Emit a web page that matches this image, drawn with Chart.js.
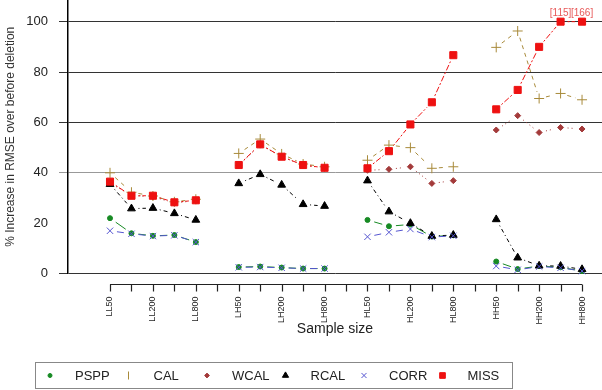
<!DOCTYPE html>
<html>
<head>
<meta charset="utf-8">
<script src="https://cdn.jsdelivr.net/npm/chart.js@4.4.1/dist/chart.umd.min.js"></script>
<style>
  html, body { margin: 0; padding: 0; background: #fff; }
</style>
</head>
<body>
<canvas id="chart" width="602" height="390"></canvas>
<script>
// positions: LL, LH, HL, HH groups (5 sample sizes each), an empty slot between groups
const tickLabels = ['LL50', '', 'LL200', '', 'LL800', '',
                    'LH50', '', 'LH200', '', 'LH800', '',
                    'HL50', '', 'HL200', '', 'HL800', '',
                    'HH50', '', 'HH200', '', 'HH800'];
const yTicks = [0, 20, 40, 60, 80, 100];
const yCap = 100;

const pspp = [22, 16, 15, 15.3, 12.5, null, 2.6, 2.8, 2.4, 2, 2, null, 21.3, 18.8, 19.5, 14.7, 15.2, null, 4.8, 1.8, 3, 2.5, 1];
const cal  = [40, 32.3, 30.8, 28.5, 29.5, null, 47.7, 53.4, 47.5, 43.5, 42.4, null, 45, 51, 50, 41.8, 42.4, null, 89.8, 96.3, 69.5, 71.5, 69];
const wcal = [36, 31, 30.5, 28, 29, null, 43, 51, 46.5, 43, 42, null, 41, 41.4, 42.4, 35.8, 36.9, null, 57, 62.7, 56, 58, 57.4];
const rcal = [35.5, 25.8, 26, 23.9, 21.3, null, 35.8, 39.4, 35.2, 27.5, 26.8, null, 36.9, 24.6, 20, 14.9, 15.3, null, 21.5, 6.3, 3.1, 3, 1.7];
const corr = [17, 15.8, 14.9, 15.2, 12.5, null, 2.5, 2.6, 2.3, 2, 2, null, 14.6, 16.4, 17.7, 14.5, 15, null, 3, 1.5, 2.8, 2.3, 1];
const miss = [36.5, 30.9, 30.9, 28.3, 29.1, null, 43.1, 51.3, 46.4, 43.1, 42, null, 41.8, 48.6, 59.2, 68, 86.7, null, 65.2, 72.9, 90, 115, 166];

const FONT = '"Liberation Sans", Arial, sans-serif';

function pts(arr) {
    // values above the cap are drawn at the cap and labelled
    return arr.map((v, i) => ({ x: i, y: v == null ? null : Math.min(v, yCap) }));
}

function series(label, arr, color, style, radius, dash, order) {
    return {
        label: label,
        data: pts(arr),
        raw: arr,
        showLine: false,
        pointStyle: style,
        pointRadius: radius,
        pointBackgroundColor: color,
        pointBorderColor: color,
        pointBorderWidth: 1,
        borderColor: color,
        dash: dash,
        order: order,
        clip: false
    };
}

const datasets = [
    series('PSPP', pspp, '#178a24', 'circle', 2.5, [], 6),
    series('CAL', cal, '#a88a3a', 'cross', 5, [4, 4], 5),
    series('WCAL', wcal, '#a33a3a', 'rectRot', 3, [1, 3], 4),
    series('RCAL', rcal, '#000000', 'triangle', 4.5, [1, 3, 4, 3], 3),
    series('CORR', corr, '#5555d0', 'crossRot', 4.5, [7, 3], 2),
    series('MISS', miss, '#ee1111', 'rect', 5, [2, 2, 6, 2], 1)
];
datasets[1].legendStyle = 'line';
datasets[1].legendRotation = 90;

// lines with a small gap round every point (R type="b")
const gapLines = {
    id: 'gapLines',
    beforeDatasetsDraw(chart) {
        const ctx = chart.ctx, gap = 7;
        chart.data.datasets.forEach((ds, i) => {
            const el = chart.getDatasetMeta(i).data;
            ctx.save();
            ctx.strokeStyle = ds.borderColor;
            ctx.lineWidth = 1;
            ctx.setLineDash(ds.dash);
            for (let k = 0; k + 1 < el.length; k++) {
                if (ds.data[k].y == null || ds.data[k + 1].y == null) continue;
                const a = el[k], b = el[k + 1];
                const dx = b.x - a.x, dy = b.y - a.y, len = Math.hypot(dx, dy);
                if (len <= 2 * gap) continue;
                const ux = dx / len, uy = dy / len;
                ctx.beginPath();
                ctx.moveTo(a.x + ux * gap, a.y + uy * gap);
                ctx.lineTo(b.x - ux * gap, b.y - uy * gap);
                ctx.stroke();
            }
            ctx.restore();
        });
    }
};

// detached x axis line with its tick marks, plus the capped-value labels
const extras = {
    id: 'extras',
    afterDatasetsDraw(chart) {
        const ctx = chart.ctx, xs = chart.scales.x, ys = chart.scales.y;
        const y0 = Math.round(chart.chartArea.bottom + 10) + 0.5;
        ctx.save();
        ctx.strokeStyle = '#222';
        ctx.lineWidth = 1.2;
        ctx.beginPath();
        ctx.moveTo(xs.getPixelForValue(0), y0);
        ctx.lineTo(xs.getPixelForValue(tickLabels.length - 1), y0);
        tickLabels.forEach((t, i) => {
            const px = Math.round(xs.getPixelForValue(i)) + 0.5;
            ctx.moveTo(px, y0);
            ctx.lineTo(px, y0 + 7);
        });
        ctx.stroke();

        const ds = chart.data.datasets[5];
        ctx.fillStyle = '#e85a5a';
        ctx.font = '10px ' + FONT;
        ctx.textAlign = 'center';
        ctx.textBaseline = 'middle';
        ds.raw.forEach((v, i) => {
            if (v != null && v > yCap) {
                ctx.fillText('[' + v + ']', xs.getPixelForValue(i), ys.getPixelForValue(yCap) - 8);
            }
        });
        ctx.restore();
    }
};

// boxed legend in one row
const boxLegend = {
    id: 'boxLegend',
    afterDraw(chart) {
        const ctx = chart.ctx;
        ctx.save();
        ctx.strokeStyle = '#888';
        ctx.lineWidth = 1;
        ctx.strokeRect(35.5, 362.5, 477, 26);
        ctx.font = '13px ' + FONT;
        ctx.textBaseline = 'middle';
        ctx.textAlign = 'left';
        chart.data.datasets.forEach((ds, i) => {
            const x = 50 + i * 78.5, y = 375.5;
            ctx.fillStyle = ds.pointBackgroundColor;
            ctx.strokeStyle = ds.pointBorderColor;
            ctx.lineWidth = 1;
            Chart.helpers.drawPoint(ctx, {
                pointStyle: ds.legendStyle || ds.pointStyle,
                radius: ds.legendStyle ? 4 : ds.pointRadius * 0.8,
                rotation: ds.legendRotation || 0,
                borderWidth: ds.legendStyle ? 1.5 : 1
            }, x, y);
            ctx.fillStyle = '#222';
            ctx.fillText(ds.label, x + 25, y + 0.5);
        });
        ctx.restore();
    }
};

function gridColor(v) {
    if (v === 20) return 'rgba(0,0,0,0)';
    if (v === 40) return '#999';
    return '#333';
}

function noPad(s) {
    s.paddingTop = 0;
    s.paddingBottom = 0;
    s.paddingLeft = 0;
    s.paddingRight = 0;
}

new Chart(document.getElementById('chart'), {
    type: 'scatter',
    data: { datasets: datasets },
    options: {
        responsive: false,
        animation: false,
        layout: { autoPadding: false, padding: { left: 0, right: 0, top: 0, bottom: 50 } },
        plugins: {
            legend: { display: false },
            tooltip: { enabled: false }
        },
        scales: {
            x: {
                type: 'linear',
                min: -1.958,
                max: 22.93,
                afterBuildTicks: s => { s.ticks = tickLabels.map((t, i) => ({ value: i })); },
                ticks: {
                    autoSkip: false,
                    minRotation: 90,
                    maxRotation: 90,
                    padding: 23,
                    font: { size: 9, family: FONT },
                    color: '#222',
                    callback: v => tickLabels[v]
                },
                grid: { display: false, drawTicks: false },
                border: { display: false },
                title: {
                    display: true,
                    text: 'Sample size',
                    font: { size: 14, family: FONT },
                    color: '#222',
                    padding: { top: 0, bottom: 2 }
                },
                afterFit: s => { s.height = 66.4; noPad(s); }
            },
            y: {
                min: 0,
                max: 108.6,
                afterBuildTicks: s => { s.ticks = yTicks.map(v => ({ value: v })); },
                ticks: {
                    padding: 11,
                    font: { size: 13, family: FONT },
                    color: '#222'
                },
                grid: {
                    color: c => gridColor(c.tick && c.tick.value),
                    tickLength: 9,
                    lineWidth: 1
                },
                border: { display: true, color: '#000', width: 1.5 },
                title: {
                    display: true,
                    text: '% Increase in RMSE over before deletion',
                    font: { size: 12, family: FONT },
                    color: '#333',
                    padding: { top: 3, bottom: 0 }
                },
                afterFit: s => { s.width = 68; noPad(s); }
            }
        }
    },
    plugins: [gapLines, extras, boxLegend]
});
</script>
</body>
</html>
